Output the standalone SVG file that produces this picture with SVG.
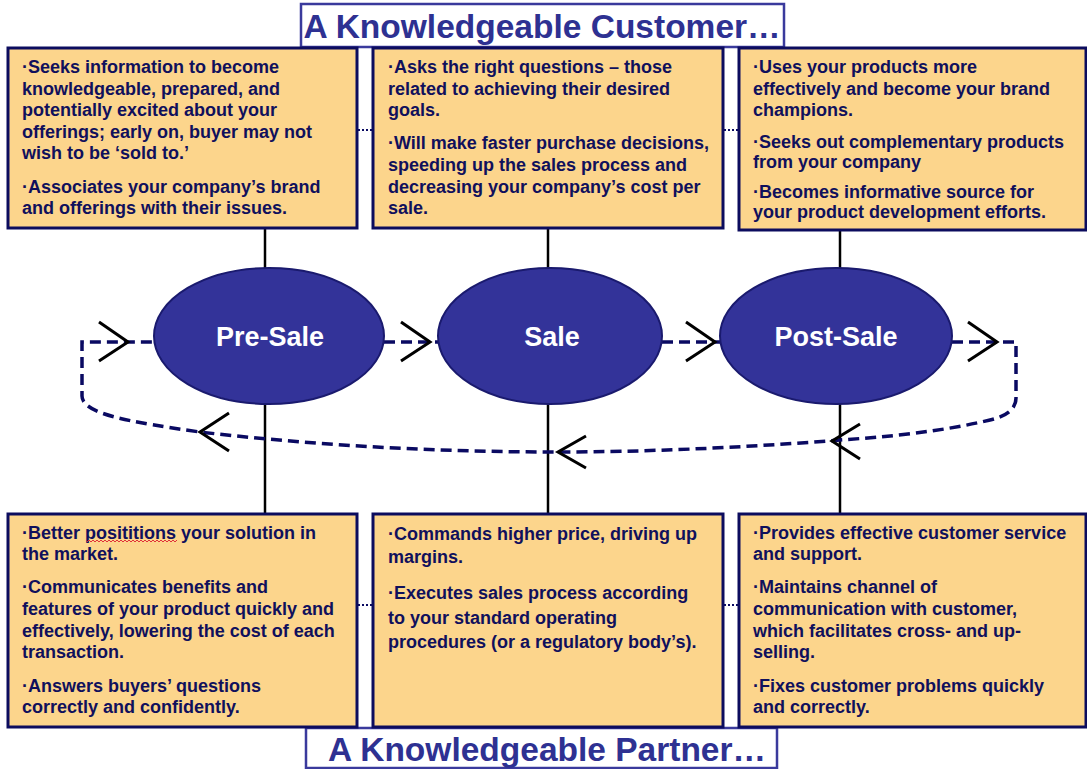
<svg xmlns="http://www.w3.org/2000/svg" width="1087" height="769" viewBox="0 0 1087 769">
  <style>
    .box { fill: #FCD58C; stroke: #0C0C5E; stroke-width: 3; }
    .title-box { fill: #FFFFFF; stroke: #3A3A9C; stroke-width: 2.5; }
    .title { font-family: "Liberation Sans", Arial, sans-serif; font-weight: bold; font-size: 33.5px; fill: #2E3192; text-anchor: middle; }
    .body { font-family: "Liberation Sans", Arial, sans-serif; font-weight: bold; font-size: 18px; fill: #10105C; }
    .stage { fill: #333399; stroke: #1A1A6E; stroke-width: 2; }
    .stage-label { font-family: "Liberation Sans", Arial, sans-serif; font-weight: bold; font-size: 27px; fill: #FFFFFF; text-anchor: middle; }
    .flow { fill: none; stroke: #0A0A62; stroke-width: 3.5; stroke-dasharray: 11 6; }
    .stem { fill: none; stroke: #000000; stroke-width: 2.5; }
    .chevron { fill: none; stroke: #000000; stroke-width: 3; }
    .dots { fill: none; stroke: #0A0A62; stroke-width: 2; stroke-dasharray: 2 2; }
  </style>

  <!-- titles -->
  <g id="title-customer">
    <rect class="title-box" x="301" y="4" width="483" height="43"/>
    <text class="title" x="542" y="38">A Knowledgeable Customer…</text>
  </g>
  <g id="title-partner">
    <rect class="title-box" x="306" y="728" width="471" height="40"/>
    <text class="title" x="547" y="761">A Knowledgeable Partner…</text>
  </g>

  <!-- connectors -->
  <g id="connectors">
    <!-- stems from stages to the boxes -->
    <line class="stem" x1="265" y1="229" x2="265" y2="269"/>
    <line class="stem" x1="548" y1="229" x2="548" y2="268"/>
    <line class="stem" x1="840" y1="231" x2="840" y2="269"/>
    <line class="stem" x1="265" y1="404" x2="265" y2="513"/>
    <line class="stem" x1="548" y1="404" x2="548" y2="513"/>
    <line class="stem" x1="840" y1="404" x2="840" y2="513"/>

    <!-- dotted links between neighbouring boxes -->
    <line class="dots" x1="358" y1="130" x2="372" y2="130"/>
    <line class="dots" x1="724" y1="130" x2="738" y2="130"/>
    <line class="dots" x1="358" y1="605" x2="372" y2="605"/>
    <line class="dots" x1="724" y1="605" x2="738" y2="605"/>

    <!-- forward flow between stages -->
    <line class="flow" x1="384" y1="342" x2="439" y2="342"/>
    <line class="flow" x1="662" y1="342" x2="721" y2="342"/>

    <!-- return loop -->
    <path class="flow" d="M 952,342 H 1016 V 398 Q 1016,414 990,420 C 940,432 885,437 840,440 C 740,448 640,452 560,452 C 440,452 320,446 200,432 C 130,422 82,414 82,396 V 342 H 154"/>

    <!-- arrowheads -->
    <polyline class="chevron" points="99,322 128,342 99,361"/>
    <polyline class="chevron" points="401,322 430,342 401,361"/>
    <polyline class="chevron" points="686,322 715,342 686,361"/>
    <polyline class="chevron" points="968,322 997,342 968,361"/>
    <polyline class="chevron" points="860,424 832,441 860,459"/>
    <polyline class="chevron" points="586,436 558,452 586,468"/>
    <polyline class="chevron" points="229,413 200,432 229,451"/>
  </g>

  <!-- stages -->
  <g id="stage-presale">
    <ellipse class="stage" cx="269" cy="336" rx="115" ry="68"/>
    <text class="stage-label" x="270" y="346">Pre-Sale</text>
  </g>
  <g id="stage-sale">
    <ellipse class="stage" cx="550" cy="336" rx="112" ry="68"/>
    <text class="stage-label" x="552" y="346">Sale</text>
  </g>
  <g id="stage-postsale">
    <ellipse class="stage" cx="836" cy="336" rx="116" ry="68"/>
    <text class="stage-label" x="836" y="346">Post-Sale</text>
  </g>

  <!-- customer benefits -->
  <g id="customer-presale">
    <rect class="box" x="8" y="48" width="349" height="180"/>
    <text class="body">
      <tspan x="22" y="73">·Seeks information to become</tspan>
      <tspan x="22" y="95">knowledgeable, prepared, and</tspan>
      <tspan x="22" y="116">potentially excited about your</tspan>
      <tspan x="22" y="138">offerings; early on, buyer may not</tspan>
      <tspan x="22" y="159">wish to be ‘sold to.’</tspan>
      <tspan x="22" y="193">·Associates your company’s brand</tspan>
      <tspan x="22" y="214">and offerings with their issues.</tspan>
    </text>
  </g>
  <g id="customer-sale">
    <rect class="box" x="373" y="48" width="350" height="180"/>
    <text class="body">
      <tspan x="388" y="73">·Asks the right questions – those</tspan>
      <tspan x="388" y="95">related to achieving their desired</tspan>
      <tspan x="388" y="116">goals.</tspan>
      <tspan x="388" y="149">·Will make faster purchase decisions,</tspan>
      <tspan x="388" y="171">speeding up the sales process and</tspan>
      <tspan x="388" y="193">decreasing your company’s cost per</tspan>
      <tspan x="388" y="214">sale.</tspan>
    </text>
  </g>
  <g id="customer-postsale">
    <rect class="box" x="739" y="48" width="347" height="182"/>
    <text class="body">
      <tspan x="753" y="73">·Uses your products more</tspan>
      <tspan x="753" y="95">effectively and become your brand</tspan>
      <tspan x="753" y="116">champions.</tspan>
      <tspan x="753" y="148">·Seeks out complementary products</tspan>
      <tspan x="753" y="168">from your company</tspan>
      <tspan x="753" y="198">·Becomes informative source for</tspan>
      <tspan x="753" y="218">your product development efforts.</tspan>
    </text>
  </g>

  <!-- partner benefits -->
  <g id="partner-presale">
    <rect class="box" x="8" y="514" width="349" height="213"/>
    <text class="body">
      <tspan x="22" y="539">·Better posititions your solution in</tspan>
      <tspan x="22" y="560">the market.</tspan>
      <tspan x="22" y="593">·Communicates benefits and</tspan>
      <tspan x="22" y="615">features of your product quickly and</tspan>
      <tspan x="22" y="637">effectively, lowering the cost of each</tspan>
      <tspan x="22" y="658">transaction.</tspan>
      <tspan x="22" y="692">·Answers buyers’ questions</tspan>
      <tspan x="22" y="713">correctly and confidently.</tspan>
    </text>
    <!-- spell-check squiggle -->
    <polyline fill="none" stroke="#E0303A" stroke-width="1" points="87,542 89,540 91,542 93,540 95,542 97,540 99,542 101,540 103,542 105,540 107,542 109,540 111,542 113,540 115,542 117,540 119,542 121,540 123,542 125,540 127,542 129,540 131,542 133,540 135,542 137,540 139,542 141,540 143,542 145,540 147,542 149,540 151,542 153,540 155,542 157,540 159,542 161,540 163,542 165,540 167,542 169,540 171,542 173,540 175,542 177,540"/>
  </g>
  <g id="partner-sale">
    <rect class="box" x="373" y="514" width="350" height="213"/>
    <text class="body">
      <tspan x="388" y="540">·Commands higher price, driving up</tspan>
      <tspan x="388" y="563">margins.</tspan>
      <tspan x="388" y="599">·Executes sales process according</tspan>
      <tspan x="388" y="624">to your standard operating</tspan>
      <tspan x="388" y="648">procedures (or a regulatory body’s).</tspan>
    </text>
  </g>
  <g id="partner-postsale">
    <rect class="box" x="739" y="514" width="347" height="213"/>
    <text class="body">
      <tspan x="753" y="539">·Provides effective customer service</tspan>
      <tspan x="753" y="560">and support.</tspan>
      <tspan x="753" y="593">·Maintains channel of</tspan>
      <tspan x="753" y="615">communication with customer,</tspan>
      <tspan x="753" y="637">which facilitates cross- and up-</tspan>
      <tspan x="753" y="658">selling.</tspan>
      <tspan x="753" y="692">·Fixes customer problems quickly</tspan>
      <tspan x="753" y="713">and correctly.</tspan>
    </text>
  </g>
</svg>
